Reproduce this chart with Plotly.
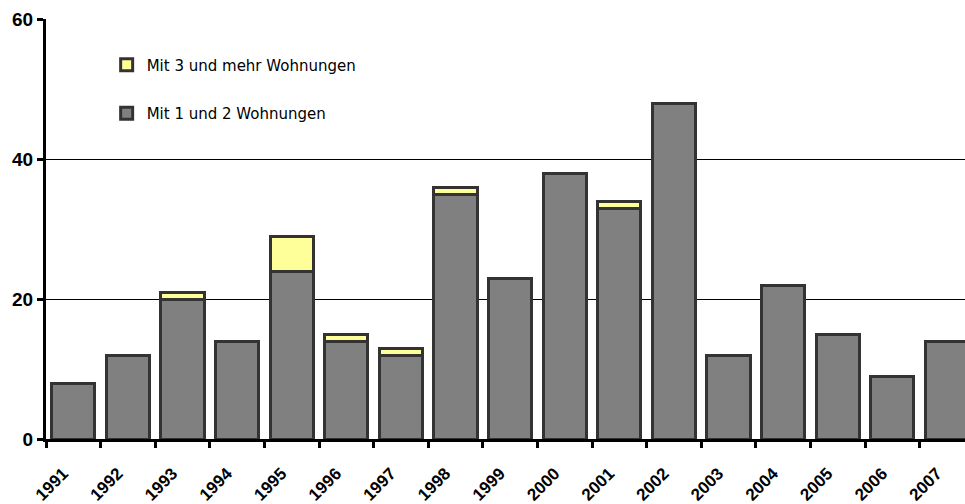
import plotly.graph_objects as go

years = [str(y) for y in range(1991, 2008)]
ein_zwei = [8, 12, 20, 14, 24, 14, 12, 35, 23, 38, 33, 48, 12, 22, 15, 9, 14]
drei_mehr = [0, 0, 1, 0, 5, 1, 1, 1, 0, 0, 1, 0, 0, 0, 0, 0, 0]

outline = dict(color="#333333", width=3)
base_font = "Liberation Sans, Arial, sans-serif"

fig = go.Figure()
fig.add_trace(go.Bar(
    x=years, y=ein_zwei, name="Mit 1 und 2 Wohnungen",
    marker=dict(color="#808080", line=outline), legendgroup="a", legendrank=2,
))
fig.add_trace(go.Bar(
    x=years, y=drei_mehr, name="Mit 3 und mehr Wohnungen",
    marker=dict(color="#FFFF99", line=outline), legendgroup="b", legendrank=1,
))

fig.update_layout(
    width=965, height=504,
    margin=dict(l=46, r=0, t=19, b=65),
    barmode="stack", bargap=0.21,
    plot_bgcolor="white", paper_bgcolor="white",
    font=dict(family=base_font, color="black"),
    showlegend=True,
    legend=dict(
        x=0.066, y=0.93, xanchor="left", yanchor="top",
        traceorder="grouped", tracegroupgap=26,
        font=dict(size=15, family="DejaVu Sans, sans-serif", color="black"),
        bgcolor="rgba(0,0,0,0)", itemwidth=30,
    ),
)

fig.update_xaxes(
    type="category", range=[-0.5, 16.33], automargin=False,
    tickvals=years, ticktext=[f"<b>{y}</b>" for y in years],
    showline=True, linecolor="black", linewidth=3,
    ticks="outside", tickson="boundaries", ticklen=6, tickwidth=3, tickcolor="black",
    tickangle=-45, tickfont=dict(size=17, family=base_font),
    ticklabelstandoff=15, ticklabelshift=-10,
    showgrid=False,
)
fig.update_yaxes(
    range=[0, 60], tickvals=[0, 20, 40, 60], automargin=False,
    ticktext=["<b>0</b>", "<b>20</b>", "<b>40</b>", "<b>60</b>"],
    showline=True, linecolor="black", linewidth=3,
    ticks="outside", ticklen=6, tickwidth=3, tickcolor="black",
    tickfont=dict(size=19, family=base_font), showgrid=True, gridcolor="black", gridwidth=1,
    zeroline=False,
)

fig.write_html("out.html")
